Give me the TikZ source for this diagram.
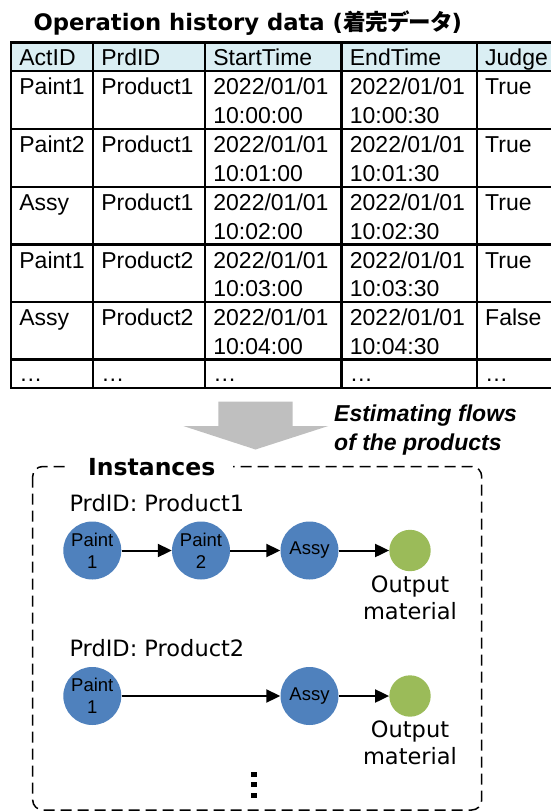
\documentclass[tikz,border=0pt]{standalone}
\usepackage{fontspec}
\setmainfont{Liberation Sans}
\newfontfamily\dvfont{DejaVu Sans}
\newfontfamily\cjkfont{Noto Sans CJK JP}[RawFeature=+palt]
\usetikzlibrary{arrows.meta}
\definecolor{hdrblue}{HTML}{DAEEF3}
\definecolor{nodeblue}{HTML}{4F81BD}
\definecolor{nodegreen}{HTML}{9BBB59}
\definecolor{arrowgray}{HTML}{BFBFBF}
\begin{document}
\begin{tikzpicture}[x=1pt,y=-1pt,
  cell/.style={anchor=base west, inner sep=0pt, font=\fontsize{23}{27}\selectfont},
  tline/.style={line width=2.2pt},
  act/.style={circle, fill=nodeblue, minimum size=58pt, inner sep=0pt, align=center, font=\fontsize{18.5}{21.7}\selectfont},
  outm/.style={circle, fill=nodegreen, minimum size=41.4pt, inner sep=0pt},
  conn/.style={line width=2pt, -{Triangle[length=14pt,width=13pt]}},
  lbl/.style={inner sep=0pt, font=\dvfont\fontsize{22.5}{27.3}\selectfont},
]
\useasboundingbox (0,0) rectangle (551,811);

% title
\node[anchor=base west, inner sep=0pt, font=\dvfont\bfseries\fontsize{22.7}{28}\selectfont] (title) at (33.3,30)
  {Operation history data ({\cjkfont\bfseries\fontsize{22.5}{28}\selectfont 着完データ})};

% table
\fill[hdrblue] (10.7,42.5) rectangle (560,71);
\draw[tline] (10.7,42.5) rectangle (560,388);
\foreach \yy in {71,129,187,244.5,302,359.5} \draw[tline] (10.7,\yy) -- (560,\yy);
\foreach \xx in {92.7,205,341.5,476.7} \draw[tline] (\xx,42.5) -- (\xx,388);

\node[cell] (h1) at (19.2,65.5) {ActID};
\node[cell] (h2) at (101.2,65.5) {PrdID};
\node[cell] (h3) at (213.2,65.5) {StartTime};
\node[cell] (h4) at (349.7,65.5) {EndTime};
\node[cell] (h5) at (485,65.5) {Judge};

\foreach \i/\t/\a/\b/\s/\e/\j in {1/71/Paint1/Product1/10:00:00/10:00:30/True,
  2/129/Paint2/Product1/10:01:00/10:01:30/True,
  3/187/Assy/Product1/10:02:00/10:02:30/True,
  4/244.5/Paint1/Product2/10:03:00/10:03:30/True,
  5/302/Assy/Product2/10:04:00/10:04:30/False}{
  \node[cell] (a\i) at (19.2,\t+23.5) {\a};
  \node[cell] (p\i) at (101.2,\t+23.5) {\b};
  \node[cell] (s\i) at (213.2,\t+23.5) {2022/01/01};
  \node[cell] (st\i) at (213.2,\t+52) {\s};
  \node[cell] (e\i) at (349.7,\t+23.5) {2022/01/01};
  \node[cell] (et\i) at (349.7,\t+52) {\e};
  \node[cell] (j\i) at (485,\t+23.5) {\j};
}
\node[cell] (d1) at (19.2,381) {…};
\node[cell] (d2) at (101.2,381) {…};
\node[cell] (d3) at (213.2,381) {…};
\node[cell] (d4) at (349.7,381) {…};
\node[cell] (d5) at (485,381) {…};

% big arrow
\fill[arrowgray] (218.3,401.7) -- (292.7,401.7) -- (292.7,426) -- (328.3,426) -- (255.5,449.5)
  -- (183.3,426) -- (218.3,426) -- cycle;
\node[anchor=north west, inner sep=0pt, align=left, font=\bfseries\itshape\fontsize{23}{28.3}\selectfont] (est)
  at (334,405) {Estimating flows\\of the products};

% instances box
\draw[line width=1.5pt, dash pattern=on 11pt off 6pt, rounded corners=10pt] (32.7,466.5) rectangle (481.7,810);
\node[anchor=base west, fill=white, inner xsep=18pt, inner ysep=2pt, font=\dvfont\bfseries\fontsize{23.5}{28}\selectfont]
  (inst) at (70,475) {Instances};

% product 1
\node[lbl, anchor=base west] (pid1) at (69.3,511.7) {PrdID: Product1};
\node[act] (p1a) at (92.3,550.5) {Paint\\1};
\node[act] (p1b) at (201,550.5) {Paint\\2};
\node[act] (p1c) at (309.5,550.5) {\raisebox{-1.5pt}{Assy}};
\node[outm] (p1o) at (410,550.5) {};
\node[lbl, anchor=north, align=center] (p1l) at (410,575.7) {Output\\material};
\draw[conn] (p1a) -- (p1b);
\draw[conn] (p1b) -- (p1c);
\draw[conn] (p1c) -- (p1o);

% product 2
\node[lbl, anchor=base west] (pid2) at (69.3,656.7) {PrdID: Product2};
\node[act] (p2a) at (92.3,696) {Paint\\1};
\node[act] (p2c) at (309.5,696) {\raisebox{-1.5pt}{Assy}};
\node[outm] (p2o) at (410,696) {};
\node[lbl, anchor=north, align=center] (p2l) at (410,720.7) {Output\\material};
\draw[conn] (p2a) -- (p2c);
\draw[conn] (p2c) -- (p2o);

% vertical dots
\foreach \yy in {774.5,784.5,795.5}
  \fill (251,\yy-2.8) rectangle (257.4,\yy+2.8);
\end{tikzpicture}
\end{document}
